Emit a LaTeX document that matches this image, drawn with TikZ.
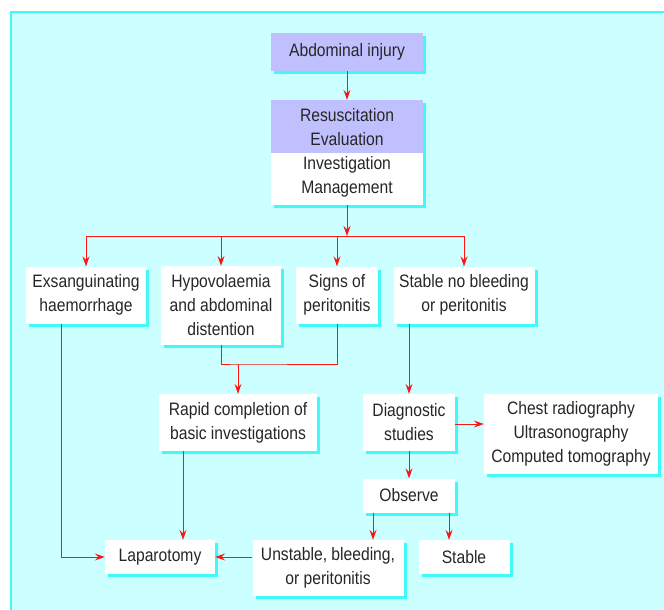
\documentclass[tikz,border=0pt]{standalone}
\usepackage{fontspec}
\setmainfont{Liberation Sans}[FakeStretch=0.87]
\usetikzlibrary{arrows.meta, shadows}

\definecolor{panel}{RGB}{204,255,255}
\definecolor{glow}{RGB}{64,250,250}
\definecolor{lilac}{RGB}{192,192,255}
\definecolor{wire}{RGB}{255,20,20}

\begin{document}
\begin{tikzpicture}[
    x=1pt, y=-1pt,
    box/.style={rectangle, fill=white, align=center, inner sep=2pt, text=black!85, font=\fontsize{18}{24}\selectfont, drop shadow={shadow xshift=3pt, shadow yshift=-3pt, fill=glow, opacity=1}},
    head/.style={box, fill=lilac},
    link/.style={wire, line width=1pt},
    arrow/.style={link, -{Stealth[length=10pt, width=7pt, inset=3.5pt]}}
]
\useasboundingbox (0,0) rectangle (664,610);

% Background panel
\fill[panel] (10,11) rectangle (664,610);
\draw[glow, line width=2pt] (11,610) -- (11,12) -- (664,12);

% Admission
\node[head, minimum width=152pt, minimum height=38pt] (injury) at (347,52) {Abdominal injury};
\node[box, minimum width=152pt, minimum height=105pt, path picture={\fill[lilac] (path picture bounding box.north west) rectangle (path picture bounding box.east);}] (resus) at (347,152.5) {Resuscitation\\Evaluation\\Investigation\\Management};
\coordinate (split) at (347,236);

% Presentations
\node[box, minimum width=120pt, minimum height=57pt] (exsang) at (86,295) {Exsanguinating\\haemorrhage};
\node[box, minimum width=120pt, minimum height=79pt] (hypo) at (221,305.5) {Hypovolaemia\\and abdominal\\distention};
\node[box, minimum width=82pt, minimum height=57pt] (signs) at (337,295) {Signs of\\peritonitis};
\node[box, minimum width=141pt, minimum height=57pt] (stablenb) at (464,295) {Stable no bleeding\\or peritonitis};
\coordinate (merge) at (238,364);

% Work-up
\node[box, minimum width=158pt, minimum height=57pt] (rapid) at (238,422.5) {Rapid completion of\\basic investigations};
\node[box, minimum width=92pt, minimum height=57pt] (diag) at (409,422.5) {Diagnostic\\studies};
\node[box, minimum width=174pt, minimum height=80pt] (imaging) at (571,434) {Chest radiography\\Ultrasonography\\Computed tomography};
\node[box, minimum width=92pt, minimum height=34pt] (observe) at (409,495.5) {Observe};

% Outcomes
\node[box, minimum width=110pt, minimum height=34pt] (lap) at (160,557) {Laparotomy};
\node[box, minimum width=151pt, minimum height=56pt] (unstable) at (328,568) {Unstable, bleeding,\\or peritonitis};
\node[box, minimum width=91pt, minimum height=34pt] (stable) at (464,557) {Stable};

% Connections
\draw[arrow] (injury) -- (resus);
\draw[arrow] (resus) -- (split);
\draw[arrow] (split) -| (exsang);
\draw[arrow] (split) -| (hypo);
\draw[arrow] (split) -| (signs);
\draw[arrow] (split) -| (stablenb);
\draw[link] (hypo.south) |- (merge) -| (signs.south);
\draw[arrow] (merge) -- (merge |- rapid.north);
\draw[arrow] ([xshift=-25pt]exsang.south) |- (lap.west);
\draw[arrow] ([xshift=-55pt]rapid.south) -- ([xshift=-55pt]rapid.south |- lap.north);
\draw[arrow] ([xshift=-55pt]stablenb.south) -- (diag.north);
\draw[arrow] ([yshift=-1.5pt]diag.east) -- ([yshift=-1.5pt]diag.east -| imaging.west);
\draw[arrow] (diag) -- (observe);
\draw[arrow] ([xshift=-36pt]observe.south) -- ([xshift=-36pt]observe.south |- unstable.north);
\draw[arrow] ([xshift=40pt]observe.south) -- ([xshift=40pt]observe.south |- stable.north);
\draw[arrow] (unstable.west |- lap.east) -- (lap.east);

\end{tikzpicture}
\end{document}
